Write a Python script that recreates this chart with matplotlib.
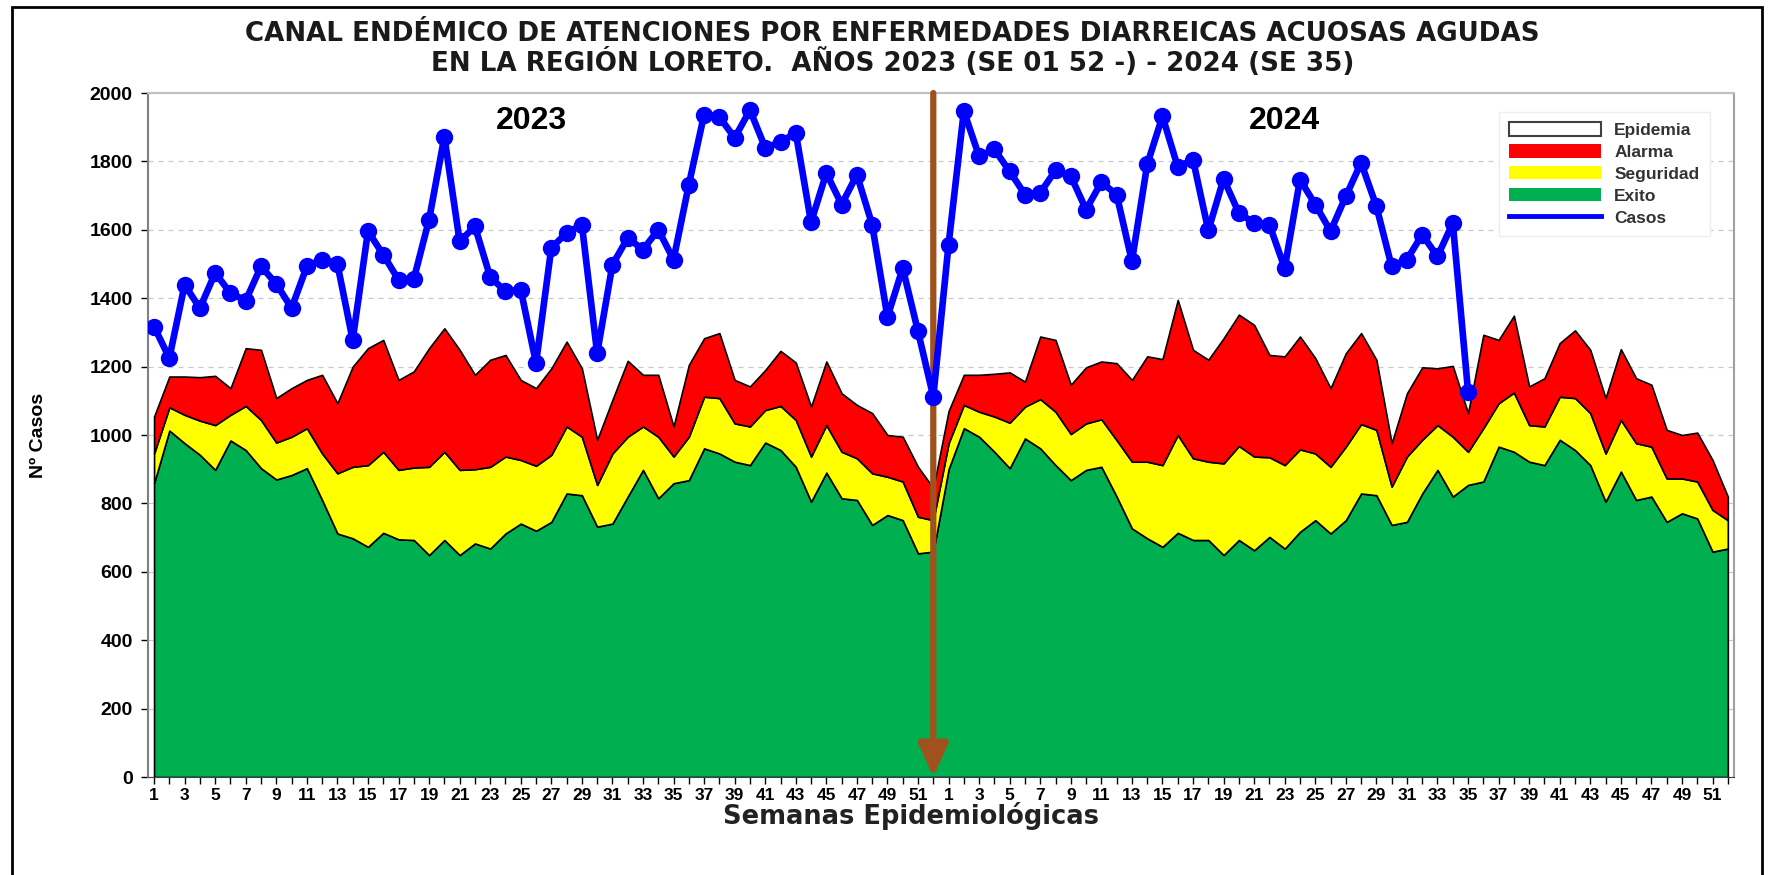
import numpy as np
import matplotlib.pyplot as plt
from matplotlib.patches import Patch, Rectangle
from matplotlib.lines import Line2D

plt.rcParams['font.family'] = ['Liberation Sans', 'DejaVu Sans']

# canal endemico (upper limit of each band), weeks 1-52 of each year
exito_2023 = [859, 1013, 976, 942, 898, 984, 956, 903, 870, 883,
              903, 810, 712, 698, 673, 714, 695, 693, 649, 693,
              649, 683, 668, 712, 741, 720, 746, 829, 824, 732,
              741, 820, 898, 815, 859, 868, 961, 946, 922, 912,
              978, 956, 907, 805, 890, 815, 810, 737, 766, 751,
              654, 659]
seguridad_2023 = [946, 1081, 1059, 1042, 1029, 1059, 1085, 1044, 978, 995,
                  1020, 946, 888, 907, 912, 951, 898, 905, 907, 951,
                  898, 900, 907, 937, 927, 910, 942, 1025, 995, 854,
                  946, 995, 1025, 995, 937, 995, 1112, 1108, 1034, 1025,
                  1073, 1085, 1044, 937, 1029, 951, 932, 888, 878, 864,
                  761, 751]
alarma_2023 = [1054, 1171, 1171, 1169, 1173, 1137, 1254, 1249, 1108, 1137,
               1161, 1176, 1093, 1200, 1254, 1278, 1161, 1186, 1254, 1312,
               1249, 1176, 1220, 1234, 1161, 1137, 1195, 1273, 1195, 986,
               1103, 1217, 1176, 1176, 1025, 1205, 1283, 1298, 1161, 1142,
               1190, 1246, 1212, 1083, 1215, 1122, 1088, 1064, 1000, 995,
               907, 845]

exito_2024 = [900, 1020, 995, 951, 903, 990, 961, 912, 868, 898,
              907, 820, 727, 698, 673, 714, 693, 693, 649, 693,
              663, 702, 668, 717, 751, 712, 751, 829, 824, 737,
              746, 829, 898, 820, 854, 864, 966, 951, 922, 912,
              986, 956, 912, 805, 893, 810, 820, 746, 771, 756,
              659, 668]
seguridad_2024 = [976, 1088, 1068, 1054, 1036, 1083, 1105, 1068, 1003, 1034,
                  1046, 985, 922, 922, 912, 1000, 932, 922, 917, 968,
                  937, 935, 912, 958, 946, 907, 966, 1032, 1015, 849,
                  937, 986, 1029, 995, 951, 1020, 1093, 1124, 1029, 1025,
                  1112, 1108, 1064, 946, 1044, 976, 966, 873, 873, 864,
                  781, 751]
alarma_2024 = [1070, 1176, 1176, 1179, 1183, 1156, 1288, 1278, 1147, 1198,
               1215, 1210, 1161, 1230, 1222, 1395, 1249, 1220, 1283, 1352,
               1322, 1234, 1230, 1288, 1225, 1137, 1239, 1298, 1220, 976,
               1122, 1198, 1195, 1202, 1064, 1293, 1278, 1349, 1142, 1166,
               1269, 1306, 1249, 1108, 1251, 1166, 1147, 1015, 1000, 1007,
               927, 820]

# casos notificados
casos_2023 = [1317, 1225, 1439, 1371, 1474, 1415, 1393, 1493, 1442, 1371,
              1493, 1513, 1500, 1278, 1596, 1527, 1454, 1456, 1630, 1872,
              1566, 1610, 1462, 1420, 1425, 1210, 1547, 1591, 1615, 1239,
              1498, 1576, 1542, 1600, 1513, 1732, 1937, 1930, 1869, 1950,
              1840, 1856, 1884, 1622, 1766, 1674, 1761, 1615, 1345, 1488,
              1303, 1112]
casos_2024 = [1557, 1947, 1815, 1835, 1771, 1703, 1708, 1774, 1757, 1659,
              1739, 1703, 1508, 1791, 1932, 1784, 1805, 1598, 1749, 1649,
              1620, 1615, 1488, 1747, 1674, 1596, 1698, 1796, 1669, 1493,
              1513, 1586, 1522, 1620, 1127]

weeks = list(range(1, 53))

exito = np.array(exito_2023 + exito_2024)
seguridad = np.array(seguridad_2023 + seguridad_2024)
alarma = np.array(alarma_2023 + alarma_2024)
casos = np.array(casos_2023 + casos_2024)
x_all = np.arange(1, len(exito) + 1)
x_casos = np.arange(1, len(casos) + 1)

fig = plt.figure(figsize=(17.74, 8.75), dpi=100)
ax = fig.add_axes([0.0834, 0.112, 0.894, 0.7817])

ax.yaxis.grid(True, linestyle=(0, (4, 4)), color='#c8c8c8', linewidth=0.9)
ax.set_axisbelow(True)

ax.fill_between(x_all, 0, exito, facecolor='#00B050', edgecolor='black', linewidth=1.2, zorder=2)
ax.fill_between(x_all, exito, seguridad, facecolor='#FFFF00', edgecolor='black', linewidth=1.2, zorder=2)
ax.fill_between(x_all, seguridad, alarma, facecolor='#FF0000', edgecolor='black', linewidth=1.2, zorder=2)

# separation between years
ax.annotate('', xy=(52, 0), xytext=(52, 2000),
            arrowprops=dict(arrowstyle='-|>,head_width=0.45,head_length=1.0',
                            color='#A0521E', lw=4.5, mutation_scale=20,
                            shrinkA=0, shrinkB=0), zorder=4)

ax.plot(x_casos, casos, '-o', color='#0000FF', linewidth=4.8, markersize=11.5, zorder=5)

ax.text(25.7, 1917, '2023', fontsize=23, fontweight='bold', ha='center', va='center')
ax.text(75, 1917, '2024', fontsize=23, fontweight='bold', ha='center', va='center')

ax.set_xlim(0.6, 104.4)
ax.set_ylim(0, 2000)
ax.set_yticks(np.arange(0, 2001, 200))
ax.set_xticks(x_all)
xlabels = [str(w) if w % 2 == 1 else '' for w in weeks + weeks]
ax.set_xticklabels(xlabels)
ax.tick_params(axis='x', length=5, width=1, labelsize=12.5, pad=3)
ax.tick_params(axis='y', length=5, width=1, labelsize=14, pad=6)
for lab in ax.get_xticklabels() + ax.get_yticklabels():
    lab.set_fontweight('bold')

ax.spines['left'].set_color('#808080')
ax.spines['left'].set_linewidth(1.5)
ax.spines['bottom'].set_color('#404040')
ax.spines['top'].set_color('#c0c0c0')
ax.spines['top'].set_linewidth(1.5)
ax.spines['right'].set_color('#a0a0a0')
ax.spines['right'].set_linewidth(1.5)

handles = [Patch(facecolor='white', edgecolor='#404040', linewidth=1.5),
           Patch(facecolor='#FF0000', edgecolor='none'),
           Patch(facecolor='#FFFF00', edgecolor='none'),
           Patch(facecolor='#00B050', edgecolor='none'),
           Line2D([0], [0], color='#0000FF', linewidth=3.5)]
labels = ['Epidemia', 'Alarma', 'Seguridad', 'Exito', 'Casos']
leg = ax.legend(handles, labels, loc='upper right', bbox_to_anchor=(0.988, 0.98),
                handlelength=5.3, handleheight=0.8, handletextpad=0.75,
                labelspacing=0.36, borderpad=0.6, borderaxespad=0.3, fancybox=False,
                framealpha=1, edgecolor='#eeeeee', prop={'weight': 'bold', 'size': 12.5})
for t in leg.get_texts():
    t.set_color('#333333')

fig.text(0.503, 0.961, 'CANAL ENDÉMICO DE ATENCIONES POR ENFERMEDADES DIARREICAS ACUOSAS AGUDAS',
         ha='center', va='center', fontsize=18.8, fontweight='bold', color='#1a1a1a',
         family=['DejaVu Sans'])
fig.text(0.503, 0.929, 'EN LA REGIÓN LORETO.  AÑOS 2023 (SE 01 52 -) - 2024 (SE 35)',
         ha='center', va='center', fontsize=18.8, fontweight='bold', color='#1a1a1a',
         family=['DejaVu Sans'])
fig.text(0.0215, 0.502, 'Nº Casos', rotation=90, ha='center', va='center',
         fontsize=14, fontweight='bold')
fig.text(0.5135, 0.068, 'Semanas Epidemiológicas', ha='center', va='center',
         fontsize=18.5, fontweight='bold', color='#222222', family=['DejaVu Sans'])

fig.patches.append(Rectangle((0.0068, -0.05), 0.9865, 1.042, transform=fig.transFigure,
                             fill=False, edgecolor='black', linewidth=2))

fig.savefig('out.png', dpi=100)
